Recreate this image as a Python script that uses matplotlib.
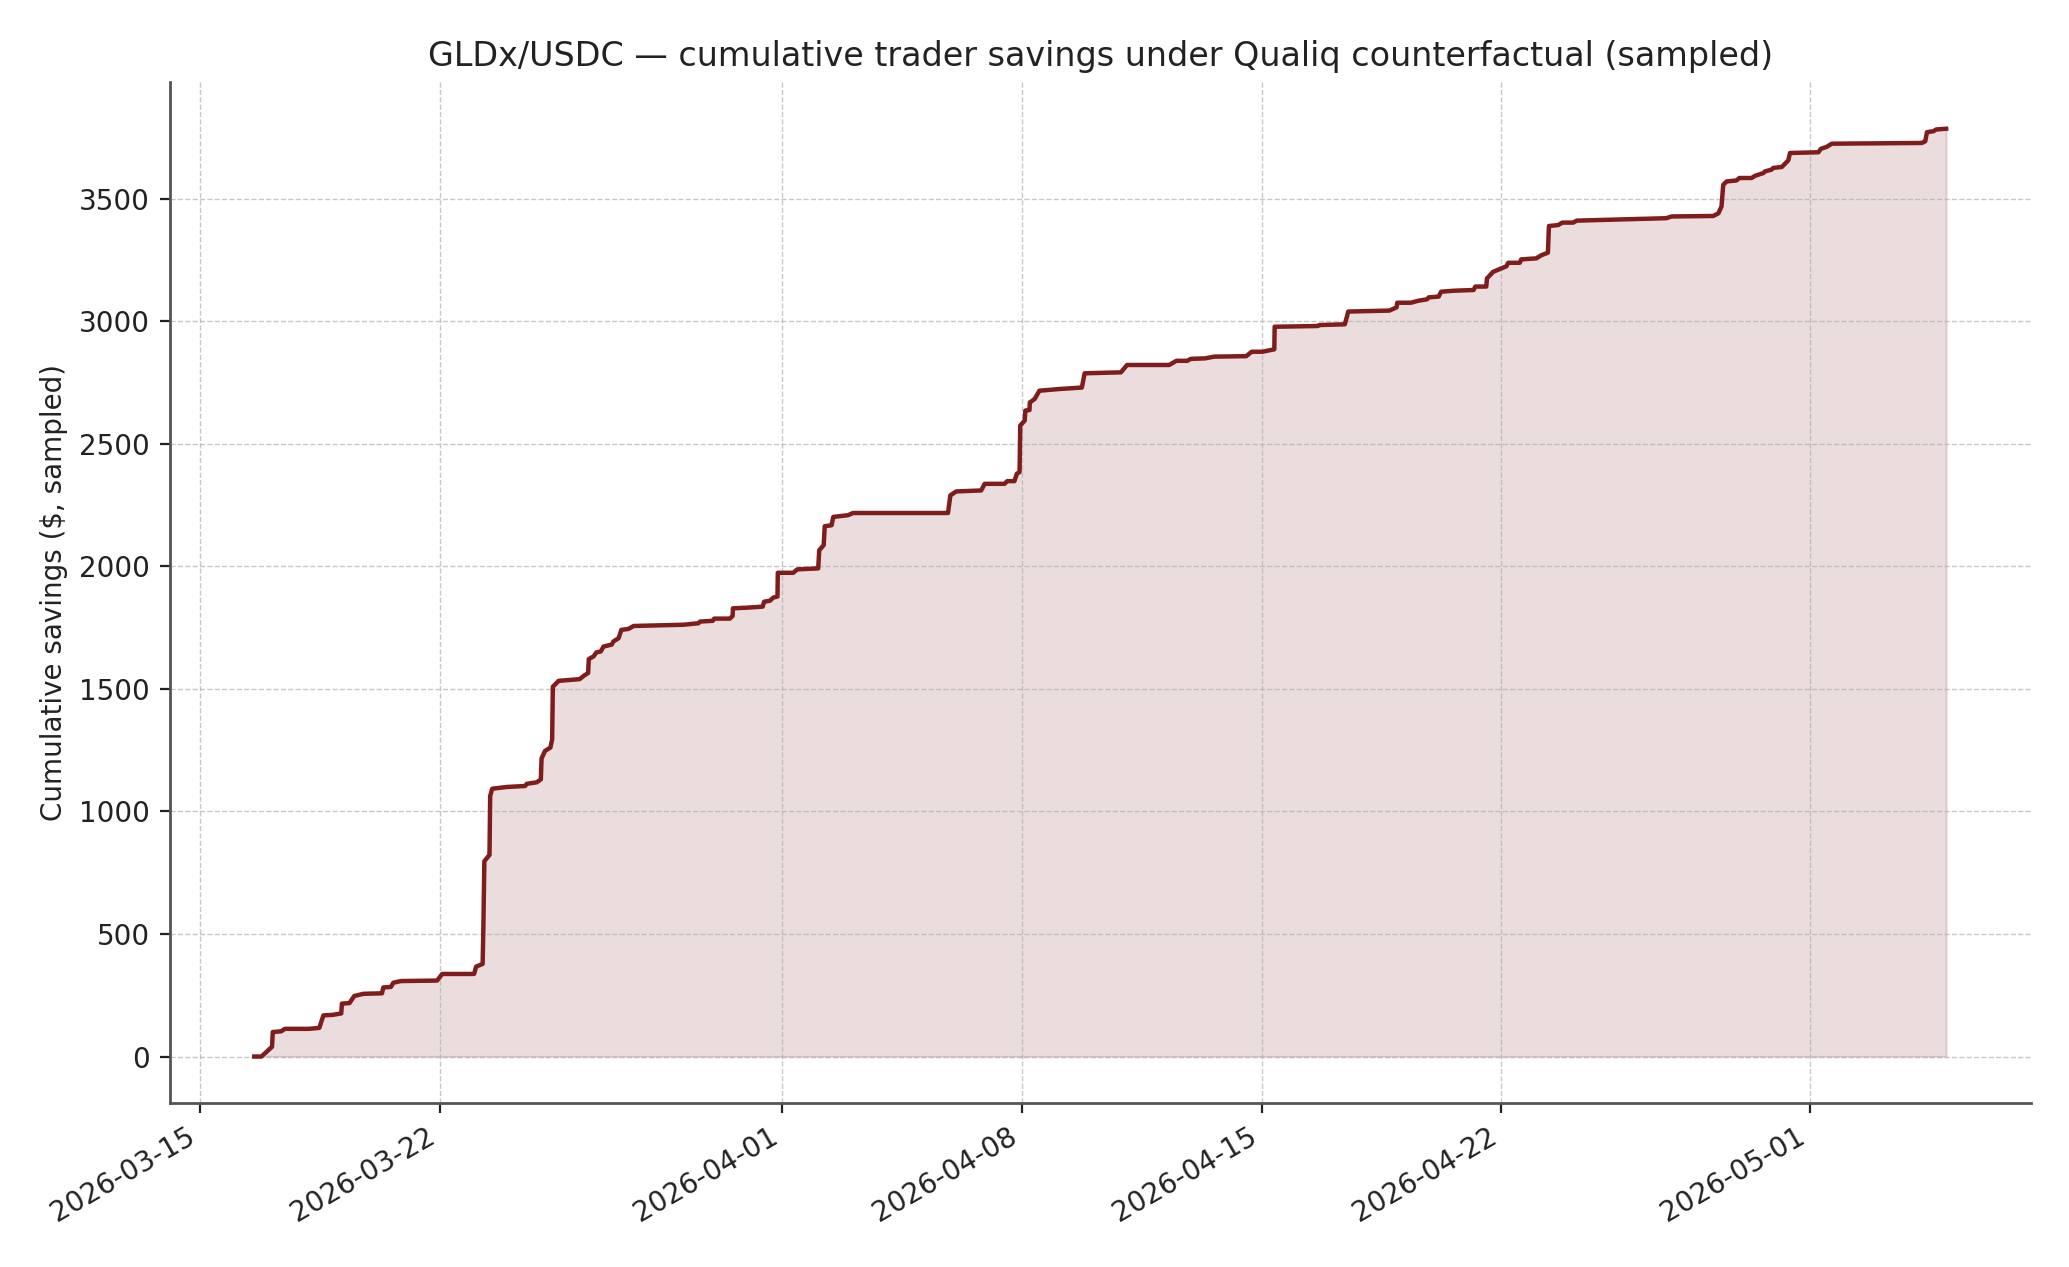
import numpy as np
import pandas as pd
import matplotlib
matplotlib.use("Agg")
import matplotlib.pyplot as plt
import matplotlib.dates as mdates

# days after 2026-03-22 (sampled points) and cumulative savings in $
day_offsets = [
    -5.42, -5.21, -4.90, -4.88, -4.63, -4.53, -3.83, -3.52, -3.40, -3.13,
    -2.88, -2.86, -2.64, -2.50, -2.23, -1.69, -1.65, -1.43, -1.36, -1.14,
    -0.08, 0.07, 1.00, 1.06, 1.25, 1.27, 1.30, 1.45, 1.47, 1.53,
    1.96, 2.49, 2.54, 2.83, 2.95, 2.97, 3.07, 3.23, 3.28, 3.30,
    3.47, 4.08, 4.21, 4.33, 4.35, 4.49, 4.57, 4.70, 4.78, 5.02,
    5.07, 5.22, 5.30, 5.51, 5.66, 7.11, 7.55, 7.60, 7.97, 8.01,
    8.47, 8.55, 8.56, 9.01, 9.43, 9.47, 9.64, 9.74, 9.86, 9.87,
    10.32, 10.44, 11.05, 11.08, 11.21, 11.24, 11.44, 11.49, 11.92, 12.07,
    14.84, 14.91, 15.08, 15.81, 15.91, 16.49, 16.57, 16.78, 16.85, 16.93,
    16.95, 17.08, 17.10, 17.22, 17.23, 17.37, 17.51, 18.10, 18.75, 18.83,
    19.89, 20.07, 21.30, 21.51, 21.83, 21.93, 22.35, 22.61, 23.55, 23.71,
    24.02, 24.37, 24.38, 25.64, 25.69, 26.43, 26.53, 27.73, 27.94, 27.96,
    28.36, 28.57, 28.83, 28.88, 29.17, 29.24, 29.61, 30.19, 30.24, 30.56,
    30.58, 30.76, 31.00, 31.15, 31.20, 31.54, 31.58, 32.02, 32.17, 32.36,
    32.39, 32.66, 32.78, 33.10, 33.20, 35.82, 35.97, 37.19, 37.34, 37.43,
    37.48, 37.58, 37.87, 37.95, 38.31, 38.41, 38.65, 38.70, 38.89, 38.94,
    39.19, 39.28, 39.38, 39.43, 40.26, 40.33, 40.50, 40.65, 43.28, 43.38,
    43.43, 43.62, 43.70, 43.99,
]
savings = [
    0, 0, 40, 100, 103, 113, 113, 117, 168, 170,
    176, 216, 218, 247, 256, 258, 282, 284, 301, 308,
    310, 337, 337, 367, 378, 517, 797, 823, 1063, 1093,
    1100, 1104, 1113, 1119, 1131, 1216, 1247, 1261, 1295, 1509,
    1533, 1540, 1554, 1565, 1622, 1633, 1649, 1653, 1673, 1681,
    1694, 1707, 1741, 1745, 1757, 1762, 1768, 1775, 1778, 1787,
    1787, 1798, 1829, 1832, 1836, 1856, 1860, 1873, 1877, 1974,
    1974, 1988, 1992, 2066, 2087, 2164, 2168, 2202, 2209, 2218,
    2218, 2290, 2306, 2310, 2337, 2337, 2348, 2348, 2378, 2385,
    2575, 2595, 2636, 2638, 2669, 2683, 2717, 2724, 2730, 2788,
    2792, 2822, 2822, 2839, 2839, 2847, 2849, 2856, 2858, 2876,
    2876, 2886, 2978, 2981, 2985, 2988, 3040, 3044, 3057, 3076,
    3076, 3084, 3090, 3098, 3101, 3121, 3125, 3128, 3142, 3142,
    3175, 3202, 3216, 3225, 3239, 3239, 3253, 3257, 3270, 3280,
    3389, 3393, 3403, 3403, 3411, 3421, 3428, 3430, 3441, 3469,
    3557, 3571, 3575, 3585, 3585, 3594, 3605, 3612, 3619, 3626,
    3630, 3643, 3657, 3687, 3690, 3704, 3712, 3725, 3728, 3735,
    3772, 3776, 3783, 3786,
]

base_day = pd.Timestamp("2026-03-22")
times = base_day + pd.to_timedelta(day_offsets, unit="D")

line_color = "#7f1d1d"
text_color = "#222222"

fig = plt.figure(figsize=(2069 / 200, 1267 / 200), dpi=200)
ax = fig.add_axes([0.082, 0.1295, 0.8995, 0.8055])

ax.plot(times, savings, color=line_color, linewidth=1.6)
ax.fill_between(times, savings, 0, color=line_color, alpha=0.15, linewidth=0.8)

ax.set_title("GLDx/USDC \u2014 cumulative trader savings under Qualiq counterfactual (sampled)",
             fontsize=12, color=text_color)
ax.set_ylabel("Cumulative savings ($, sampled)", fontsize=10, color=text_color)

ax.xaxis.set_major_locator(mdates.DayLocator(bymonthday=[1, 8, 15, 22]))
ax.xaxis.set_major_formatter(mdates.DateFormatter("%Y-%m-%d"))
ax.set_yticks([0, 500, 1000, 1500, 2000, 2500, 3000, 3500])
for lab in ax.get_xticklabels():
    lab.set_rotation(30)
    lab.set_ha("right")
ax.tick_params(labelsize=10, colors=text_color)

ax.grid(True, linestyle="--", linewidth=0.5, color="#b0b0b0", alpha=0.7)
ax.spines["top"].set_visible(False)
ax.spines["right"].set_visible(False)
for s in ["left", "bottom"]:
    ax.spines[s].set_color("#555555")
    ax.spines[s].set_linewidth(1.0)

fig.savefig("out.png", dpi=200)
